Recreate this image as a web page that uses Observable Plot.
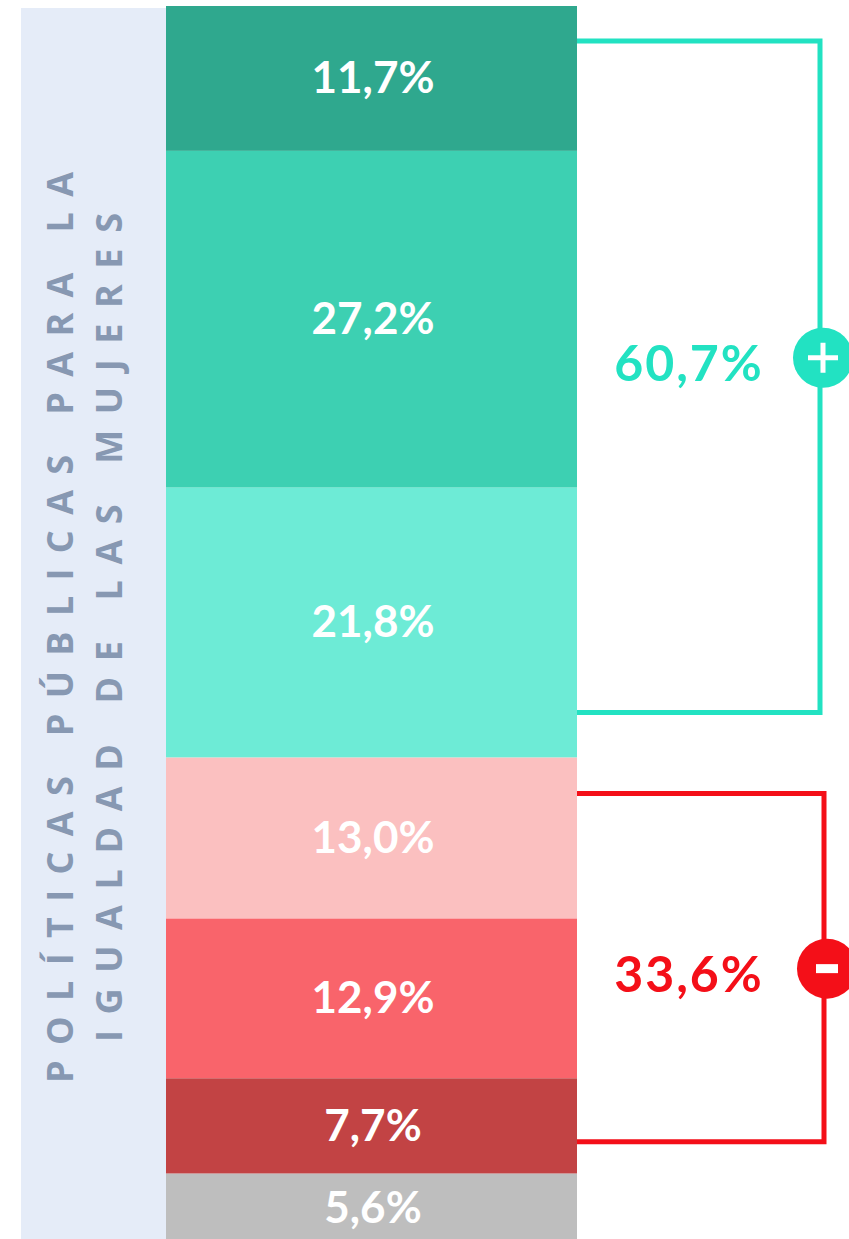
<!DOCTYPE html>
<html><head><meta charset="utf-8">
<script src="https://cdn.jsdelivr.net/npm/d3@7"></script>
<script src="https://cdn.jsdelivr.net/npm/@observablehq/plot@0.6"></script>
<style>html,body{margin:0;padding:0;background:#fff;overflow:hidden}</style>
</head><body><div id="chart"></div>
<script>
// ---- data ----
const segmentValues = [11.7, 27.2, 21.8, 13.0, 12.9, 7.7, 5.6];
const segmentLabels = ["11,7%", "27,2%", "21,8%", "13,0%", "12,9%", "7,7%", "5,6%"];
const segmentColors = ["#2FA88E", "#3DD0B2", "#6DEBD6", "#FBC0C0", "#F9646B", "#C24344", "#BEBEBE"];
const groupLabels = ["60,7%", "33,6%"];
const groupSigns = ["+", "-"];
const groupColors = ["#22E2C2", "#F40F18"];
const groupFirst = [0, 3];
const groupLast = [2, 5];
const titleLines = ["POLÍTICAS PÚBLICAS PARA LA", "IGUALDAD DE LAS MUJERES"];

// ---- layout ----
const W = 849, H = 1239;
const barX1 = 166, barX2 = 577, barCx = (barX1 + barX2) / 2;
const panelX1 = 21, panelTop = 8;
const panelColor = "#E5ECF8", panelText = "#8798B2";
const titleBaseX = [73, 122], titleStartY = [1083, 1042], titleLen = [911, 829];
const bracketX = [820, 824], bracketTopInset = [35, 36], bracketBotInset = [45, 32];
const markerShift = [-19, 1], markerR = 30, markerXOff = 3;
const labelX = 688, labelShift = 6;
const labelFont = "Lato, 'Open Sans', sans-serif";

const total = d3.sum(segmentValues);
let cum = 0;
const segments = segmentValues.map((v, i) => {
  const top = total - cum; cum += v;
  return {value: v, label: segmentLabels[i], color: segmentColors[i], y2: top, y1: total - cum};
});

function panelMark(index, scales, values, dims) {
  const g = d3.create("svg:g");
  g.append("rect").attr("x", panelX1).attr("y", panelTop)
    .attr("width", barX1 - panelX1).attr("height", dims.height - panelTop).attr("fill", panelColor);
  titleLines.forEach((t, i) => {
    g.append("text")
      .attr("transform", `translate(${titleBaseX[i]},${titleStartY[i]}) rotate(-90)`)
      .attr("text-anchor", "start")
      .attr("font-family", "'Open Sans', sans-serif").attr("font-weight", 700)
      .attr("font-size", 36).attr("fill", panelText)
      .attr("textLength", titleLen[i]).attr("lengthAdjust", "spacing")
      .text(t);
  });
  return g.node();
}

function bracketMark(index, scales) {
  const y = scales.y;
  const g = d3.create("svg:g");
  groupLabels.forEach((lab, i) => {
    const top = y(segments[groupFirst[i]].y2) + bracketTopInset[i];
    const bot = y(segments[groupLast[i]].y1) - bracketBotInset[i];
    const bx = bracketX[i];
    g.append("path")
      .attr("d", `M${barX2},${top}H${bx}V${bot}H${barX2}`)
      .attr("fill", "none").attr("stroke", groupColors[i]).attr("stroke-width", 5)
      .attr("stroke-linejoin", "miter");
    const cy = (top + bot) / 2 + markerShift[i];
    const cx = bx + markerXOff;
    g.append("circle").attr("cx", cx).attr("cy", cy).attr("r", markerR).attr("fill", groupColors[i]);
    if (groupSigns[i] === "+") {
      g.append("path").attr("d", `M${cx - 15},${cy}H${cx + 15}M${cx},${cy - 15}V${cy + 15}`)
        .attr("stroke", "white").attr("stroke-width", 5);
    } else {
      g.append("rect").attr("x", cx - 11).attr("y", cy - 4.5).attr("width", 22).attr("height", 9).attr("fill", "white");
    }
    g.append("text").attr("x", labelX + 1).attr("y", cy + labelShift)
      .attr("text-anchor", "middle").attr("dy", "0.35em")
      .attr("font-family", labelFont).attr("font-weight", 700).attr("font-size", 50)
      .attr("letter-spacing", 2)
      .attr("fill", groupColors[i]).text(lab);
  });
  return g.node();
}

const chart = Plot.plot({
  width: W, height: H, margin: 0,
  x: {type: "identity", axis: null},
  y: {domain: [0, total], range: [1243, 6], axis: null},
  marks: [
    panelMark,
    Plot.rect(segments, {x1: () => barX1, x2: () => barX2, y1: "y1", y2: "y2", fill: "color"}),
    Plot.text(segments, {x: () => barCx + 1, y: d => (d.y1 + d.y2) / 2, text: "label", fill: "white",
      fontSize: 44, fontWeight: 700, fontFamily: labelFont, letterSpacing: 2}),
    bracketMark
  ]
});
document.getElementById("chart").appendChild(chart);
</script>
</body></html>
